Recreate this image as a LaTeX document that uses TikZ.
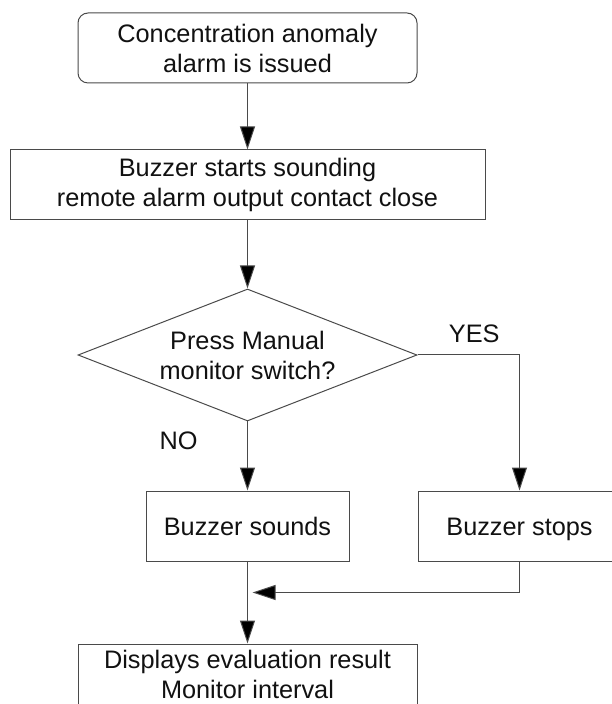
\documentclass[tikz,border=0pt]{standalone}
\usepackage{fontspec}
\setmainfont{Liberation Sans}
\usepackage{tikz}
\usetikzlibrary{arrows.meta,positioning,shapes.geometric}
\usepackage{xcolor}
\definecolor{alarmline}{HTML}{4A4A4A}
\definecolor{alarmtext}{HTML}{111111}

\begin{document}
\begin{tikzpicture}[
  node distance=33pt and 34pt,
  box/.style={draw=alarmline, line width=0.5pt, align=center, inner sep=0pt,
    minimum height=35pt, font=\fontsize{12.65pt}{15pt}\selectfont, text=alarmtext},
  start/.style={box, rounded corners=5pt, minimum width=169.5pt},
  stepbox/.style={box, minimum width=101.5pt, text height=9.1pt, text depth=0pt},
  decision/.style={box, diamond, aspect=2.57, minimum width=169.5pt, minimum height=66pt},
  arrow/.style={-{Triangle[length=11.5pt,width=7.5pt,fill=black]}, line width=0.5pt, draw=alarmline},
  label/.style={font=\fontsize{12.65pt}{15pt}\selectfont, text=alarmtext, inner sep=0pt}
]
\useasboundingbox (0,0) rectangle (305.5pt,-352pt);

\node[start] (issued) at (123.75pt,-24pt) {Concentration anomaly\\alarm is issued};
\node[box, minimum width=237.5pt, below=of issued] (starts) {Buzzer starts sounding\\remote alarm output contact close};
\node[decision, below=34pt of starts] (press) {Press Manual\\monitor switch?};
\node[stepbox, below=34.5pt of press] (sounds) {Buzzer sounds};
\node[stepbox, right=of sounds] (stops) {Buzzer stops};
\node[box, minimum width=169.5pt, text depth=5pt, below=41pt of sounds] (display) {Displays evaluation result\\Monitor interval};

\node[label, above right=6pt and 15.5pt of press.east] (yes) {YES};
\node[label, below left=5pt and 24.75pt of press.south] (no) {NO};
\coordinate[below=15.5pt of sounds.south, xshift=2.5pt] (merge);

\draw[arrow] (issued) -- (starts);
\draw[arrow] (starts) -- (press);
\draw[arrow] (press) -- (sounds);
\draw[arrow] (press.east) -| (stops);
\draw[arrow] (stops.south) |- (merge);
\draw[arrow] (sounds) -- (display);
\end{tikzpicture}
\end{document}
